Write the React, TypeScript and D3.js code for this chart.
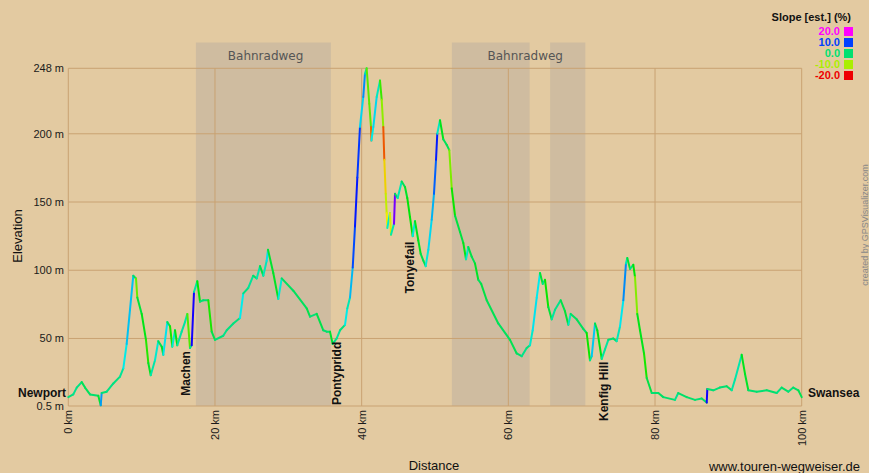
import React from 'react';
import * as d3 from 'd3';

// Profile data (distance in km, elevation in m)
const distanceKm = [
  0.0, 0.68, 1.15, 1.83, 2.28, 2.96, 4.09, 4.42, 4.55, 5.24, 6.14, 7.05, 7.5, 7.96, 8.41, 8.86, 9.23, 9.41,
  10.01, 10.59, 10.91, 11.24, 11.82, 12.27, 12.74, 12.95, 13.5, 13.87, 14.18, 14.55, 14.86, 15.46, 15.91,
  16.23, 16.59, 16.83, 17.14, 17.59, 17.96, 18.41, 19.09, 19.55, 20.0, 21.13, 21.6, 22.5, 23.41, 23.86,
  24.54, 25.22, 25.69, 26.14, 26.59, 27.05, 27.23, 27.95, 28.63, 29.1, 30.68, 32.51, 32.96, 33.87, 34.77,
  35.23, 35.68, 36.05, 36.6, 37.05, 37.73, 38.04, 38.41, 38.78, 39.09, 39.41, 39.77, 40.22, 40.45, 40.68,
  41.04, 41.27, 41.33, 41.59, 42.05, 42.5, 42.73, 42.95, 43.09, 43.28, 43.41, 43.5, 43.86, 44.0, 44.41,
  44.55, 44.91, 45.46, 45.91, 46.22, 46.59, 46.96, 47.27, 47.72, 48.05, 48.41, 48.73, 49.09, 49.55, 49.86,
  50.14, 50.31, 50.68, 51.13, 51.59, 51.95, 52.28, 52.73, 53.41, 53.86, 54.23, 54.54, 55.0, 55.45, 55.9,
  56.3, 57.05, 58.63, 60.23, 61.14, 61.82, 62.5, 62.95, 63.32, 63.87, 64.32, 64.69, 65.0, 65.45, 65.91,
  66.36, 67.14, 67.72, 68.18, 68.5, 69.32, 70.22, 70.68, 71.13, 71.37, 71.82, 72.13, 72.73, 73.18, 73.63,
  74.31, 74.77, 75.23, 75.68, 76.04, 76.22, 76.59, 77.04, 77.27, 77.58, 77.95, 78.5, 78.87, 79.55, 80.45,
  81.13, 82.72, 83.17, 84.32, 85.45, 86.37, 87.05, 87.13, 87.95, 88.83, 89.77, 90.46, 90.91, 91.82, 92.27,
  92.72, 93.86, 95.23, 96.59, 97.27, 98.17, 98.85, 99.54, 100.0,
];
const elevationM = [
  7, 9, 14, 18, 14, 9, 8, 1, 10, 11, 17, 22, 28, 46, 71, 96, 94, 80,
  68, 49, 32, 23, 34, 48, 44, 38, 62, 59, 44, 56, 45, 55, 62,
  68, 43, 45, 84, 92, 77, 78, 78, 55, 49, 52, 56, 61, 65, 83,
  87, 96, 94, 103, 96, 107, 115, 98, 79, 94, 85, 72, 66, 68, 56,
  55, 55, 46, 50, 56, 60, 72, 80, 102, 132, 168, 205, 227, 244, 248,
  222, 205, 195, 205, 227, 239, 225, 205, 181, 156, 142, 131, 142, 126, 134,
  156, 153, 165, 161, 153, 139, 125, 136, 122, 112, 107, 103, 115, 137, 156,
  181, 200, 210, 196, 192, 188, 160, 140, 128, 120, 108, 117, 110, 105, 93,
  90, 78, 61, 49, 39, 37, 43, 45, 56, 80, 98, 90, 93, 73, 64,
  71, 78, 70, 60, 68, 64, 57, 54, 34, 37, 61, 56, 35, 42, 49,
  50, 48, 59, 78, 105, 109, 101, 104, 95, 68, 56, 39, 21, 10, 10,
  7, 5, 10, 7, 5, 6, 3, 13, 12, 14, 15, 12, 20, 38, 24,
  12, 11, 12, 10, 14, 11, 14, 12, 7,
];

const yTicks = [0.5, 50, 100, 150, 200, 248];
const xTicks = [0, 20, 40, 60, 80, 100];

const bandStartKm = [17.4, 52.3, 65.7];
const bandEndKm = [35.8, 62.9, 70.5];
const bandLabels = ['Bahnradweg', 'Bahnradweg'];
const bandLabelKm = [26.9, 62.3];

const placeNames = ['Machen', 'Pontypridd', 'Tonyefail', 'Kenfig Hill'];
const placeKm = [16.0, 36.6, 46.5, 73.0];
const placeBaseElev = [8, 1.2, 83, -10.5];

const slopeLegendValues = [20, 10, 0, -10, -20];
const slopeLegendColors = ['#ff00ff', '#0040ff', '#00e070', '#aaee00', '#ee0000'];

const FONT = '"Liberation Sans", Arial, sans-serif';

export default function App() {
  React.useEffect(() => {
    document.body.style.margin = '0';
  }, []);

  const W = 869;
  const H = 473;
  const x = d3.scaleLinear().domain([0, 100]).range([68.3, 801.7]);
  const y = d3.scaleLinear().domain([0.5, 248]).range([406, 68.3]);

  const slopeColor = d3
    .scaleLinear<string>()
    .domain([-20, -10, 0, 10, 20])
    .range(['#ee0000', '#aaee00', '#00e070', '#0040ff', '#ff00ff'])
    .interpolate(d3.interpolateHsl)
    .clamp(true);

  const segments = d3.pairs(d3.range(distanceKm.length)).map(([i, j]) => {
    const dd = (distanceKm[j] - distanceKm[i]) * 1000;
    const de = elevationM[j] - elevationM[i];
    const slope = dd > 0 ? (de / dd) * 100 : 0;
    return { i, j, slope };
  });

  const gridColor = '#c9a272';
  const bg = '#e3caa1';
  const bandColor = '#cfbca0';

  return (
    <svg width={W} height={H} style={{ display: 'block', background: bg }} fontFamily={FONT}>
      <rect x={0} y={0} width={W} height={H} fill={bg} />
      {/* shaded bands */}
      {bandStartKm.map((s, k) => (
        <rect
          key={'band' + k}
          x={x(s)}
          y={42.5}
          width={x(bandEndKm[k]) - x(s)}
          height={406 - 42.5}
          fill={bandColor}
        />
      ))}
      {bandLabels.map((t, k) => (
        <text
          key={'bl' + k}
          x={x(bandLabelKm[k])}
          y={60}
          textAnchor="middle"
          fontSize={12}
          fontFamily='"DejaVu Sans", sans-serif'
          fill="#555"
        >
          {t}
        </text>
      ))}
      {/* grid */}
      {yTicks.map((t) => (
        <line key={'gy' + t} x1={x(0)} x2={x(100)} y1={y(t)} y2={y(t)} stroke={gridColor} strokeWidth={1} />
      ))}
      {xTicks.map((t) => (
        <line key={'gx' + t} x1={x(t)} x2={x(t)} y1={y(248)} y2={y(0.5)} stroke={gridColor} strokeWidth={1} />
      ))}
      {/* y labels */}
      {yTicks.map((t) => (
        <text key={'yl' + t} x={64} y={y(t)} dy="0.35em" textAnchor="end" fontSize={11} fill="#1a1a1a">
          {t + ' m'}
        </text>
      ))}
      {/* x labels */}
      {xTicks.map((t) => (
        <text
          key={'xl' + t}
          transform={`translate(${x(t)},410) rotate(-90)`}
          dy="0.35em"
          textAnchor="end"
          fontSize={11}
          fill="#1a1a1a"
        >
          {t + ' km'}
        </text>
      ))}
      {/* profile line */}
      {segments.map((s) => (
        <line
          key={'s' + s.i}
          x1={x(distanceKm[s.i])}
          y1={y(elevationM[s.i])}
          x2={x(distanceKm[s.j])}
          y2={y(elevationM[s.j])}
          stroke={slopeColor(s.slope)}
          strokeWidth={2}
          strokeLinecap="round"
        />
      ))}
      {/* place labels */}
      <text x={66} y={397} textAnchor="end" fontSize={12} fontWeight="bold" fill="#111">
        Newport
      </text>
      <text x={808} y={397} textAnchor="start" fontSize={12} fontWeight="bold" fill="#111">
        Swansea
      </text>
      {placeNames.map((n, k) => (
        <text
          key={'pn' + k}
          transform={`translate(${x(placeKm[k])},${y(placeBaseElev[k])}) rotate(-90)`}
          dy="0.36em"
          textAnchor="start"
          fontSize={12}
          fontWeight="bold"
          fill="#111"
        >
          {n}
        </text>
      ))}
      {/* axis titles */}
      <text transform="translate(17,236) rotate(-90)" dy="0.35em" textAnchor="middle" fontSize={13} fill="#111">
        Elevation
      </text>
      <text x={434} y={470} textAnchor="middle" fontSize={13} fill="#111">
        Distance
      </text>
      <text x={860} y={471} textAnchor="end" fontSize={13} fill="#111">
        www.touren-wegweiser.de
      </text>
      <text transform="translate(865,225) rotate(-90)" dy="0.35em" textAnchor="middle" fontSize={9} fill="#888">
        created by GPSVisualizer.com
      </text>
      {/* legend */}
      <text x={851} y={21} textAnchor="end" fontSize={11} fontWeight="bold" fill="#111">
        Slope [est.] (%)
      </text>
      {slopeLegendValues.map((v, k) => (
        <g key={'lg' + k}>
          <text
            x={840}
            y={31.5 + k * 11}
            dy="0.35em"
            textAnchor="end"
            fontSize={11}
            fontWeight="bold"
            fill={slopeLegendColors[k]}
          >
            {v.toFixed(1)}
          </text>
          <rect x={844} y={27 + k * 11} width={9} height={9} fill={slopeLegendColors[k]} />
        </g>
      ))}
    </svg>
  );
}
